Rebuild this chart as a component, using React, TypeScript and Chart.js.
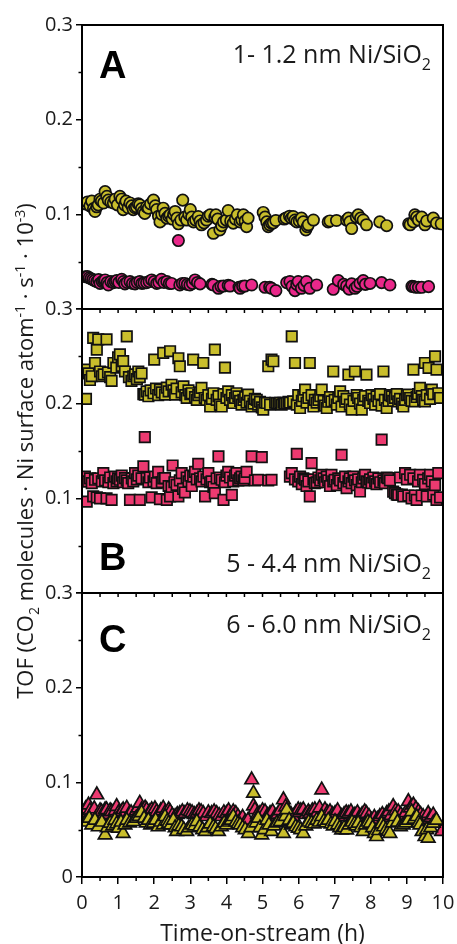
import React, { useEffect, useRef } from 'react';
import { Chart, registerables } from 'chart.js';

Chart.register(...registerables);

// ---------------- DATA ----------------
const xTicks = [0, 1, 2, 3, 4, 5, 6, 7, 8, 9, 10];
const yTicks = [0, 0.1, 0.2, 0.3];

const panelLetters = ['A', 'B', 'C'];
const panelLabels = ['1- 1.2 nm Ni/SiO', '5 - 4.4 nm Ni/SiO', '6 - 6.0 nm Ni/SiO'];
const panelLabelSub = '2';

// Panel A – circles
const aYellowT = [0.10,0.15,0.22,0.27,0.32,0.36,0.41,0.45,0.50,0.54,0.60,0.64,0.69,0.73,0.80,0.87,0.92,0.98,1.05,1.10,1.14,1.18,1.22,1.28,1.33,1.38,1.42,1.47,1.51,1.56,1.60,1.65,1.70,1.74,1.79,1.84,1.90,1.98,2.03,2.07,2.12,2.16,2.21,2.25,2.30,2.35,2.40,2.44,2.50,2.54,2.58,2.63,2.67,2.74,2.79,2.85,2.90,2.96,3.00,3.04,3.09,3.15,3.22,3.27,3.31,3.38,3.45,3.50,3.55,3.64,3.68,3.71,3.76,3.82,3.87,3.92,4.00,4.05,4.12,4.19,4.25,4.30,4.38,4.43,4.47,4.52,4.56,4.60,5.02,5.07,5.12,5.16,5.20,5.25,5.30,5.37,5.60,5.65,5.75,5.80,5.85,5.90,5.95,6.02,6.08,6.13,6.20,6.24,6.27,6.41,6.82,6.87,7.05,7.33,7.38,7.42,7.47,7.60,7.65,7.72,7.79,7.88,8.25,8.44,9.05,9.09,9.18,9.22,9.27,9.32,9.41,9.50,9.55,9.73,9.82,9.95];
const aYellowV = [0.111,0.113,0.109,0.114,0.106,0.103,0.108,0.110,0.116,0.114,0.112,0.124,0.119,0.115,0.113,0.112,0.116,0.110,0.119,0.116,0.105,0.110,0.114,0.107,0.112,0.109,0.105,0.107,0.108,0.111,0.110,0.106,0.103,0.101,0.108,0.1065,0.111,0.115,0.109,0.105,0.098,0.092,0.100,0.1065,0.101,0.096,0.098,0.0995,0.095,0.100,0.103,0.096,0.090,0.094,0.115,0.097,0.094,0.100,0.105,0.097,0.092,0.094,0.0977,0.093,0.089,0.091,0.094,0.098,0.0995,0.080,0.097,0.0995,0.095,0.0836,0.088,0.092,0.094,0.104,0.093,0.0907,0.095,0.0995,0.092,0.094,0.0995,0.093,0.087,0.096,0.102,0.097,0.092,0.087,0.089,0.0907,0.091,0.0935,0.095,0.096,0.098,0.096,0.0977,0.094,0.092,0.093,0.096,0.092,0.0836,0.087,0.089,0.094,0.092,0.093,0.0935,0.094,0.096,0.092,0.085,0.097,0.0995,0.096,0.094,0.089,0.092,0.088,0.090,0.089,0.092,0.0995,0.097,0.094,0.097,0.089,0.093,0.096,0.0907,0.090];
const aPinkT = [0.10,0.15,0.20,0.25,0.30,0.35,0.41,0.46,0.50,0.56,0.60,0.64,0.70,0.73,0.80,0.87,0.92,0.96,1.02,1.10,1.15,1.19,1.25,1.33,1.40,1.47,1.53,1.60,1.66,1.72,1.79,1.86,1.93,2.00,2.07,2.13,2.20,2.27,2.35,2.42,2.48,2.67,2.71,2.78,2.85,2.92,2.99,3.06,3.13,3.20,3.27,3.60,3.64,3.78,3.85,3.92,4.05,4.10,4.35,4.38,4.45,4.51,4.70,5.07,5.20,5.25,5.37,5.67,5.76,5.82,5.90,5.95,5.99,6.08,6.15,6.22,6.31,6.50,6.96,7.10,7.25,7.33,7.40,7.47,7.56,7.62,7.70,7.79,7.85,7.98,8.30,8.53,9.14,9.18,9.24,9.32,9.41,9.60];
const aPinkV = [0.034,0.0342,0.033,0.032,0.031,0.030,0.029,0.031,0.027,0.029,0.030,0.0307,0.028,0.0254,0.029,0.0279,0.029,0.030,0.028,0.0314,0.029,0.0265,0.028,0.029,0.027,0.0265,0.028,0.029,0.027,0.0275,0.0279,0.029,0.0307,0.029,0.027,0.028,0.0314,0.028,0.029,0.027,0.027,0.0723,0.0254,0.027,0.027,0.026,0.0254,0.027,0.0307,0.028,0.0265,0.026,0.0254,0.0219,0.024,0.0243,0.025,0.0243,0.023,0.0219,0.024,0.0243,0.0254,0.0229,0.023,0.0219,0.0194,0.0279,0.029,0.024,0.0194,0.026,0.029,0.0219,0.025,0.029,0.0219,0.0254,0.0208,0.030,0.026,0.0243,0.021,0.0265,0.0219,0.024,0.027,0.030,0.026,0.027,0.0279,0.0254,0.024,0.0236,0.023,0.0229,0.0229,0.0236];

// Panel B – squares
const bYellowT = [0.11,0.11,0.18,0.22,0.27,0.31,0.36,0.41,0.45,0.50,0.55,0.60,0.68,0.72,0.78,0.82,0.87,0.95,1.00,1.05,1.10,1.14,1.19,1.24,1.30,1.37,1.42,1.47,1.52,1.56,1.60,1.65,1.70,1.74,1.79,1.84,1.90,1.98,2.00,2.05,2.11,2.16,2.21,2.25,2.30,2.35,2.40,2.44,2.48,2.53,2.58,2.62,2.67,2.71,2.76,2.81,2.86,2.90,2.95,3.00,3.04,3.08,3.13,3.18,3.22,3.27,3.31,3.36,3.40,3.45,3.50,3.55,3.60,3.64,3.68,3.73,3.78,3.82,3.87,3.92,3.96,4.00,4.05,4.10,4.15,4.19,4.24,4.28,4.33,4.38,4.42,4.47,4.52,4.56,4.60,4.65,4.70,4.75,4.79,4.84,4.88,4.93,4.98,5.02,5.07,5.12,5.16,5.21,5.25,5.30,5.35,5.39,5.44,5.49,5.53,5.58,5.62,5.67,5.72,5.76,5.81,5.85,5.90,5.95,5.99,6.04,6.09,6.13,6.18,6.22,6.27,6.31,6.36,6.41,6.45,6.50,6.55,6.60,6.64,6.69,6.73,6.78,6.82,6.87,6.91,6.96,7.00,7.06,7.10,7.15,7.19,7.24,7.29,7.33,7.38,7.42,7.47,7.52,7.56,7.61,7.65,7.70,7.75,7.79,7.84,7.88,7.93,7.98,8.02,8.07,8.12,8.16,8.21,8.26,8.30,8.35,8.39,8.44,8.49,8.53,8.58,8.62,8.67,8.72,8.76,8.81,8.86,8.90,8.95,9.00,9.04,9.09,9.13,9.18,9.22,9.27,9.31,9.36,9.41,9.45,9.50,9.50,9.55,9.60,9.64,9.69,9.73,9.78,9.82,9.87,9.92];
const bYellowV = [0.205,0.236,0.232,0.225,0.229,0.2695,0.243,0.257,0.268,0.234,0.229,0.231,0.268,0.233,0.228,0.224,0.243,0.238,0.249,0.252,0.240,0.245,0.234,0.271,0.228,0.224,0.229,0.231,0.226,0.234,0.228,0.232,0.210,0.2095,0.213,0.2078,0.214,0.211,0.2466,0.216,0.209,0.2148,0.212,0.2536,0.2095,0.217,0.213,0.2554,0.220,0.214,0.2095,0.216,0.248,0.2395,0.212,0.2183,0.209,0.206,0.214,0.210,0.211,0.2466,0.207,0.204,0.209,0.212,0.2166,0.243,0.206,0.204,0.209,0.197,0.205,0.211,0.257,0.204,0.208,0.199,0.197,0.210,0.238,0.206,0.213,0.204,0.209,0.2007,0.206,0.211,0.2078,0.203,0.199,0.204,0.207,0.201,0.2095,0.203,0.197,0.200,0.205,0.204,0.199,0.202,0.196,0.1937,0.201,0.2007,0.2395,0.199,0.2466,0.2448,0.201,0.2007,0.200,0.201,0.199,0.201,0.200,0.2007,0.202,0.201,0.271,0.2025,0.243,0.199,0.209,0.1954,0.203,0.2078,0.2148,0.201,0.206,0.243,0.209,0.197,0.204,0.201,0.204,0.208,0.2148,0.203,0.198,0.1954,0.202,0.207,0.2025,0.234,0.204,0.199,0.206,0.213,0.197,0.208,0.202,0.205,0.2307,0.199,0.1937,0.203,0.234,0.209,0.206,0.200,0.1937,0.204,0.208,0.2307,0.203,0.2007,0.209,0.205,0.199,0.2078,0.203,0.210,0.198,0.234,0.204,0.1954,0.203,0.209,0.2078,0.203,0.206,0.210,0.2025,0.205,0.200,0.197,0.204,0.209,0.2095,0.206,0.203,0.236,0.2025,0.207,0.210,0.2166,0.208,0.204,0.2025,0.243,0.209,0.2377,0.205,0.2148,0.210,0.250,0.236,0.211,0.206];
const bPinkT = [0.05,0.08,0.13,0.17,0.22,0.27,0.31,0.36,0.41,0.45,0.50,0.55,0.59,0.64,0.68,0.73,0.78,0.82,0.87,0.91,0.96,1.00,1.05,1.10,1.14,1.19,1.24,1.28,1.33,1.38,1.42,1.47,1.52,1.56,1.60,1.65,1.70,1.74,1.79,1.84,1.88,1.93,1.98,2.02,2.07,2.11,2.16,2.21,2.25,2.30,2.35,2.40,2.44,2.48,2.51,2.56,2.62,2.67,2.71,2.76,2.80,2.85,2.90,2.95,3.00,3.04,3.08,3.13,3.18,3.22,3.27,3.31,3.36,3.41,3.45,3.50,3.55,3.59,3.64,3.68,3.73,3.78,3.82,3.87,3.92,3.96,4.00,4.05,4.10,4.15,4.19,4.24,4.28,4.33,4.38,4.42,4.47,4.51,4.56,4.70,4.79,4.88,4.98,5.16,5.25,5.76,5.81,5.90,5.95,5.99,6.04,6.09,6.13,6.18,6.22,6.27,6.31,6.36,6.41,6.45,6.50,6.55,6.60,6.64,6.69,6.73,6.78,6.82,6.87,6.91,6.96,7.00,7.06,7.10,7.15,7.19,7.24,7.29,7.33,7.38,7.42,7.47,7.52,7.56,7.61,7.65,7.70,7.75,7.79,7.84,7.88,7.93,7.98,8.02,8.07,8.12,8.16,8.21,8.26,8.30,8.35,8.39,8.44,8.48,8.53,8.62,8.67,8.72,8.76,8.81,8.86,8.90,8.95,9.00,9.04,9.09,9.13,9.18,9.22,9.27,9.31,9.36,9.41,9.45,9.50,9.55,9.59,9.64,9.69,9.73,9.78,9.82,9.87,9.92];
const bPinkV = [0.118,0.123,0.0966,0.118,0.121,0.116,0.102,0.1196,0.101,0.121,0.100,0.118,0.1266,0.119,0.100,0.117,0.122,0.0984,0.116,0.123,0.118,0.121,0.1196,0.124,0.117,0.1213,0.119,0.116,0.0984,0.121,0.118,0.1266,0.120,0.124,0.0984,0.121,0.1337,0.1647,0.1213,0.117,0.122,0.101,0.118,0.123,0.116,0.128,0.0991,0.117,0.121,0.1213,0.0984,0.113,0.102,0.112,0.1347,0.117,0.1143,0.102,0.119,0.1266,0.110,0.1062,0.122,0.118,0.124,0.113,0.123,0.128,0.120,0.1365,0.121,0.118,0.123,0.102,0.120,0.1266,0.117,0.118,0.112,0.1055,0.121,0.1443,0.122,0.1196,0.0984,0.117,0.124,0.128,0.122,0.1037,0.118,0.124,0.1266,0.119,0.121,0.123,0.119,0.121,0.128,0.1443,0.119,0.1196,0.1436,0.119,0.1196,0.123,0.1266,0.120,0.147,0.118,0.123,0.115,0.121,0.1196,0.113,0.118,0.102,0.1372,0.120,0.116,0.1168,0.122,0.119,0.1249,0.121,0.117,0.123,0.119,0.113,0.1249,0.118,0.1196,0.114,0.121,0.119,0.146,0.116,0.123,0.1108,0.118,0.121,0.116,0.123,0.119,0.114,0.120,0.1072,0.117,0.121,0.1249,0.118,0.1168,0.120,0.116,0.122,0.118,0.115,0.121,0.117,0.162,0.119,0.116,0.122,0.1213,0.119,0.107,0.1055,0.104,0.1037,0.122,0.104,0.102,0.1266,0.120,0.103,0.1249,0.100,0.121,0.103,0.0984,0.118,0.1249,0.103,0.1196,0.115,0.102,0.121,0.1249,0.118,0.104,0.114,0.0984,0.1266,0.101];

// Panel C – triangles
const cPinkT = [0.05,0.10,0.18,0.22,0.27,0.34,0.41,0.45,0.50,0.54,0.60,0.64,0.68,0.74,0.78,0.82,0.87,0.92,0.96,1.01,1.05,1.10,1.14,1.19,1.24,1.30,1.36,1.42,1.50,1.55,1.60,1.65,1.70,1.75,1.79,1.84,1.88,1.93,1.98,2.02,2.07,2.12,2.18,2.25,2.30,2.35,2.40,2.44,2.50,2.58,2.64,2.71,2.78,2.85,2.92,2.99,3.05,3.11,3.18,3.24,3.30,3.36,3.45,3.50,3.59,3.66,3.73,3.80,3.87,3.93,4.00,4.06,4.12,4.19,4.26,4.32,4.38,4.45,4.52,4.60,4.70,4.75,4.79,4.86,4.93,5.00,5.07,5.14,5.21,5.28,5.35,5.42,5.49,5.58,5.64,5.72,5.79,5.85,5.92,5.99,6.06,6.13,6.20,6.27,6.31,6.38,6.45,6.52,6.58,6.64,6.73,6.80,6.87,6.94,7.01,7.08,7.19,7.26,7.32,7.38,7.45,7.50,7.56,7.63,7.70,7.76,7.83,7.88,7.95,8.02,8.10,8.18,8.25,8.32,8.38,8.44,8.50,8.56,8.62,8.69,8.76,8.83,8.90,8.97,9.04,9.10,9.18,9.25,9.32,9.38,9.45,9.52,9.59,9.66,9.73,9.80,9.96];
const cPinkV = [0.068,0.072,0.076,0.070,0.067,0.072,0.0868,0.066,0.070,0.069,0.065,0.071,0.071,0.066,0.070,0.069,0.064,0.070,0.0744,0.068,0.066,0.069,0.071,0.067,0.0727,0.066,0.068,0.0638,0.070,0.073,0.078,0.071,0.069,0.073,0.071,0.066,0.069,0.071,0.067,0.072,0.069,0.066,0.070,0.0727,0.068,0.066,0.071,0.069,0.065,0.0638,0.066,0.067,0.069,0.067,0.070,0.069,0.068,0.066,0.067,0.070,0.069,0.067,0.0638,0.068,0.067,0.069,0.067,0.065,0.0638,0.068,0.067,0.070,0.066,0.069,0.067,0.064,0.060,0.063,0.058,0.060,0.1026,0.075,0.071,0.066,0.067,0.070,0.069,0.065,0.067,0.069,0.0638,0.066,0.070,0.0815,0.074,0.069,0.066,0.0638,0.068,0.071,0.070,0.071,0.066,0.069,0.067,0.070,0.071,0.068,0.073,0.092,0.071,0.068,0.069,0.066,0.067,0.070,0.0638,0.066,0.068,0.067,0.069,0.064,0.0656,0.068,0.0638,0.066,0.069,0.067,0.064,0.060,0.063,0.061,0.0638,0.066,0.063,0.067,0.069,0.065,0.0744,0.070,0.069,0.066,0.0638,0.068,0.0797,0.073,0.076,0.072,0.069,0.066,0.0638,0.061,0.067,0.063,0.0656,0.060,0.048];
const cYellowT = [0.10,0.20,0.27,0.36,0.45,0.55,0.64,0.70,0.78,0.85,0.91,0.96,1.01,1.08,1.14,1.19,1.24,1.32,1.42,1.50,1.58,1.65,1.72,1.78,1.84,1.90,1.98,2.04,2.11,2.18,2.25,2.30,2.36,2.40,2.46,2.53,2.58,2.62,2.68,2.76,2.82,2.90,2.96,3.05,3.12,3.18,3.26,3.34,3.41,3.48,3.55,3.64,3.70,3.78,3.86,3.94,4.00,4.07,4.13,4.19,4.26,4.32,4.38,4.45,4.52,4.61,4.68,4.75,4.82,4.88,4.93,4.98,5.05,5.12,5.18,5.25,5.32,5.40,5.49,5.58,5.63,5.67,5.74,5.80,5.85,5.92,5.99,6.06,6.13,6.20,6.28,6.36,6.43,6.50,6.57,6.64,6.70,6.76,6.82,6.90,6.96,7.01,7.08,7.14,7.19,7.26,7.33,7.40,7.48,7.55,7.60,7.65,7.72,7.79,7.85,7.92,7.98,8.05,8.10,8.16,8.22,8.30,8.35,8.42,8.48,8.53,8.60,8.67,8.74,8.82,8.90,8.97,9.04,9.13,9.20,9.27,9.32,9.36,9.42,9.50,9.55,9.59,9.66,9.73,9.82];
const cYellowV = [0.058,0.062,0.055,0.060,0.053,0.058,0.0444,0.052,0.0568,0.054,0.060,0.056,0.0515,0.058,0.046,0.055,0.060,0.057,0.0585,0.062,0.064,0.068,0.062,0.057,0.060,0.055,0.0568,0.060,0.053,0.058,0.055,0.0638,0.059,0.0568,0.055,0.060,0.052,0.048,0.054,0.053,0.050,0.048,0.052,0.055,0.054,0.0585,0.053,0.050,0.048,0.052,0.056,0.053,0.051,0.048,0.053,0.057,0.055,0.058,0.060,0.0638,0.058,0.056,0.055,0.052,0.050,0.046,0.052,0.0885,0.057,0.062,0.052,0.0444,0.050,0.060,0.055,0.048,0.054,0.057,0.0585,0.046,0.064,0.071,0.060,0.055,0.0568,0.053,0.0515,0.050,0.046,0.054,0.058,0.0568,0.056,0.060,0.058,0.0638,0.059,0.057,0.060,0.056,0.054,0.0585,0.055,0.052,0.0497,0.052,0.0497,0.055,0.058,0.056,0.054,0.0568,0.052,0.048,0.055,0.058,0.0568,0.052,0.046,0.0427,0.049,0.056,0.053,0.050,0.048,0.046,0.057,0.0638,0.058,0.053,0.055,0.057,0.060,0.069,0.061,0.0638,0.057,0.055,0.048,0.0427,0.050,0.041,0.052,0.0568,0.060];

// ---------------- STYLE ----------------
const W = 457;
const H = 944;
const PLOT_LEFT = 82;
const PLOT_RIGHT = 443;
const PANEL_TOP = [25, 309, 593];
const PANEL_BOTTOM = [309, 593, 877];
const YELLOW = '#C9BE2C';
const PINK_A = '#E9288A';
const PINK_BC = '#EC3A70';
const EDGE = '#111111';
const FONT = '"Open Sans", "DejaVu Sans", sans-serif';
const TEXT = '#1a1a1a';
const TICK_SIZE = 20;

const zip = (t: number[], v: number[]) => t.map((x, i) => ({ x, y: v[i] }));

type Seg = { t: string; k?: 'sub' | 'sup' };

function drawRich(ctx: CanvasRenderingContext2D, segs: Seg[], x: number, y: number, size: number, align: 'left' | 'center' | 'right') {
  const small = size * 0.64;
  const widths = segs.map((s) => {
    ctx.font = `${s.k ? small : size}px ${FONT}`;
    return ctx.measureText(s.t).width;
  });
  const total = widths.reduce((a, b) => a + b, 0);
  let cx = align === 'left' ? x : align === 'center' ? x - total / 2 : x - total;
  ctx.textAlign = 'left';
  ctx.textBaseline = 'alphabetic';
  segs.forEach((s, i) => {
    ctx.font = `${s.k ? small : size}px ${FONT}`;
    const dy = s.k === 'sub' ? size * 0.26 : s.k === 'sup' ? -size * 0.38 : 0;
    ctx.fillText(s.t, cx, y + dy);
    cx += widths[i];
  });
}

const letterBaselines = [78, 570, 652];
const labelBaselines = [63, 572, 633];

const decoPlugin = {
  id: 'panelDeco',
  afterDraw(chart: any, _args: any, opts: any) {
    const ctx = chart.ctx as CanvasRenderingContext2D;
    const { left, right, top, bottom } = chart.chartArea;
    const xs = chart.scales.x;
    const ys = chart.scales.y;
    const idx = opts.index as number;
    ctx.save();
    ctx.setLineDash([]);
    ctx.globalAlpha = 1;
    ctx.strokeStyle = '#000000';
    // frame
    ctx.lineWidth = 2;
    ctx.strokeRect(left, top, right - left, bottom - top);
    // minor y ticks
    ctx.lineWidth = 1.5;
    ctx.beginPath();
    [0.05, 0.15, 0.25].forEach((v) => {
      const py = Math.round(ys.getPixelForValue(v)) + 0.5;
      ctx.moveTo(left - 3.5, py);
      ctx.lineTo(left, py);
    });
    // x ticks at half hours (and all, for the upper panels)
    for (let h = 0.5; h < 10; h += 1) {
      const px = xs.getPixelForValue(h);
      ctx.moveTo(px, bottom);
      ctx.lineTo(px, bottom + 4);
    }
    if (idx < 2) {
      for (let h = 1; h < 10; h += 1) {
        const px = xs.getPixelForValue(h);
        ctx.moveTo(px, bottom);
        ctx.lineTo(px, bottom + 4);
      }
    }
    ctx.stroke();
    // letter
    ctx.fillStyle = '#000';
    ctx.font = `bold 38px "Liberation Sans", Arial, sans-serif`;
    ctx.textAlign = 'left';
    ctx.textBaseline = 'alphabetic';
    ctx.fillText(panelLetters[idx], 99, letterBaselines[idx]);
    // label
    ctx.fillStyle = TEXT;
    drawRich(ctx, [{ t: panelLabels[idx] }, { t: panelLabelSub, k: 'sub' }], 431, labelBaselines[idx], 25, 'right');
    if (idx === 2) {
      // x title
      ctx.fillStyle = TEXT;
      drawRich(ctx, [{ t: 'Time-on-stream (h)' }], (left + right) / 2, 941, 23, 'center');
      // y title
      ctx.translate(33, (PANEL_TOP[0] + PANEL_BOTTOM[2]) / 2);
      ctx.rotate(-Math.PI / 2);
      drawRich(
        ctx,
        [
          { t: 'TOF (CO' },
          { t: '2', k: 'sub' },
          { t: ' molecules · Ni surface atom' },
          { t: '-1', k: 'sup' },
          { t: ' · s' },
          { t: '-1', k: 'sup' },
          { t: ' · 10' },
          { t: '-3', k: 'sup' },
          { t: ')' },
        ],
        0,
        0,
        22,
        'center'
      );
    }
    ctx.restore();
  },
};

function makeDataset(t: number[], v: number[], color: string, style: string, radius: number) {
  return {
    data: zip(t, v),
    backgroundColor: color,
    borderColor: EDGE,
    borderWidth: 1.7,
    pointStyle: style,
    pointRadius: radius,
    pointHoverRadius: radius,
  };
}

function makeConfig(idx: number): any {
  const last = idx === 2;
  const datasets =
    idx === 0
      ? [makeDataset(aYellowT, aYellowV, YELLOW, 'circle', 5.7), makeDataset(aPinkT, aPinkV, PINK_A, 'circle', 5.7)]
      : idx === 1
      ? [makeDataset(bYellowT, bYellowV, YELLOW, 'rect', 7.4), makeDataset(bPinkT, bPinkV, PINK_BC, 'rect', 7.4)]
      : [makeDataset(cYellowT, cYellowV, YELLOW, 'triangle', 7.8), makeDataset(cPinkT, cPinkV, PINK_BC, 'triangle', 7.8)];
  return {
    type: 'scatter',
    data: { datasets },
    plugins: [decoPlugin],
    options: {
      animation: false,
      responsive: false,
      events: [],
      layout: {
        padding: { left: 0, right: W - PLOT_RIGHT, top: PANEL_TOP[idx], bottom: last ? 0 : H - PANEL_BOTTOM[idx] },
      },
      plugins: {
        legend: { display: false },
        tooltip: { enabled: false },
        panelDeco: { index: idx },
      },
      scales: {
        x: {
          type: 'linear',
          min: xTicks[0],
          max: xTicks[xTicks.length - 1],
          display: last,
          afterBuildTicks: (s: any) => {
            s.ticks = xTicks.map((value) => ({ value }));
          },
          ticks: {
            font: { family: FONT, size: TICK_SIZE, lineHeight: 1.7 },
            color: TEXT,
            padding: 2,
            maxRotation: 0,
            autoSkip: false,
          },
          grid: { drawOnChartArea: false, drawTicks: true, tickLength: 7, color: '#000', lineWidth: 1.5 },
          border: { display: false },
          afterFit: (s: any) => {
            s.height = last ? H - PANEL_BOTTOM[2] : 0;
            s.paddingLeft = 0;
            s.paddingRight = 0;
          },
        },
        y: {
          type: 'linear',
          min: yTicks[0],
          max: yTicks[yTicks.length - 1],
          afterBuildTicks: (s: any) => {
            s.ticks = yTicks.map((value) => ({ value }));
          },
          ticks: {
            font: { family: FONT, size: TICK_SIZE },
            color: TEXT,
            padding: 3,
            autoSkip: false,
            callback: (v: number) => (v === 0 ? (last ? '0' : '') : v.toFixed(1)),
          },
          grid: { drawOnChartArea: false, drawTicks: true, tickLength: 6, color: '#000', lineWidth: 1.5 },
          border: { display: false },
          afterFit: (s: any) => {
            s.width = PLOT_LEFT;
            s.paddingTop = 0;
            s.paddingBottom = 0;
          },
        },
      },
    },
  };
}

function Panel({ idx }: { idx: number }) {
  const ref = useRef<HTMLCanvasElement | null>(null);
  useEffect(() => {
    if (!ref.current) return;
    const chart = new Chart(ref.current, makeConfig(idx));
    return () => chart.destroy();
  }, [idx]);
  return (
    <canvas
      ref={ref}
      width={W}
      height={H}
      style={{ position: 'absolute', left: 0, top: 0, width: W, height: H }}
    />
  );
}

export default function App() {
  return (
    <div style={{ position: 'fixed', left: 0, top: 0, width: W, height: H, background: '#fff', overflow: 'hidden' }}>
      <Panel idx={0} />
      <Panel idx={1} />
      <Panel idx={2} />
    </div>
  );
}
